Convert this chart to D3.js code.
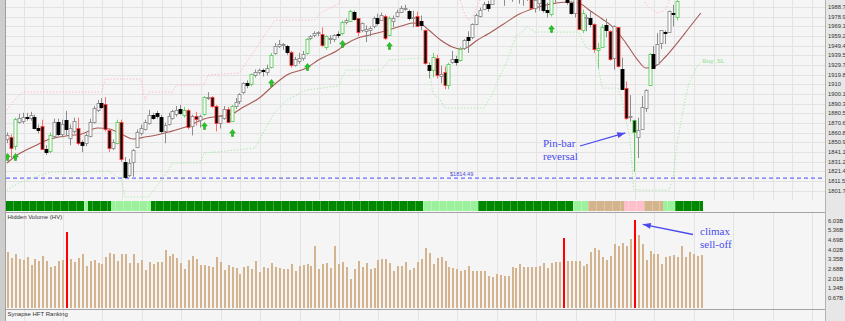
<!DOCTYPE html>
<html>
<head>
<meta charset="utf-8">
<title>Synapse daily chart</title>
<script src="https://cdnjs.cloudflare.com/ajax/libs/d3/7.8.5/d3.min.js"></script>
<style>
  body { margin: 0; background: #ffffff; }
  #chart svg { display: block; }
  .axis-label { font-family: "Liberation Sans", Arial, sans-serif; font-size: 5.8px; fill: #333; }
  .panel-title { font-family: "Liberation Sans", Arial, sans-serif; font-size: 6px; fill: #333; }
  .note { font-family: "Liberation Serif", "Times New Roman", serif; font-size: 11px; fill: #4a4af0; }
</style>
</head>
<body>
<div id="chart"></div>
<script>
// ---- values ----
// u = up, d = down, U = up with green signal outline, D = down with red outline, P = pin bar
const candleType = ("uDUuududdD" + "dUududuuDd" + "uuuudDDuUD" + "duuuuuuddd" + "uuuudUDuDu" +
                    "UuDDuuDUuu" + "udUuuduUuu" + "udDuuuUuuu" + "DUuudUuUdD" + "uuuuduDUuu" +
                    "uuduDdDdUD" + "uDUudUuduu" + "uuduuududd" + "dudDuuddUu" + "uddduDUudD" +
                    "UUdDuDdDuP" + "uuuUduudud" + "Uudduuu").split("");

const openP = [
  1854,1856,1848,1872,1873,1877,1876,1877,1866,1868,
  1844,1842,1858,1872,1860,1874,1856,1863,1866,1851,
  1850,1858,1872,1884,1891,1890,1863,1845,1851,1872,
  1831,1818,1831,1846,1861,1865,1871,1879,1881,1877,
  1863,1870,1876,1880,1885,1879,1884,1868,1878,1874,
  1880,1896,1897,1888,1871,1876,1885,1873,1888,1893,
  1902,1911,1910,1920,1923,1925,1923,1928,1942,1949,
  1950,1949,1943,1930,1934,1937,1942,1957,1960,1962,
  1961,1948,1956,1956,1961,1962,1973,1975,1984,1977,
  1965,1964,1965,1969,1978,1976,1980,1961,1974,1980,
  1984,1987,1985,1978,1980,1974,1965,1930,1925,1937,
  1918,1923,1910,1933,1936,1935,1947,1958,1958,1972,
  1980,1987,1992,1992,1998,2000,1998,1998,2004,2003,
  2001,1998,2007,2001,1988,1993,1997,1986,1982,1999,
  2003,2012,2009,1993,1983,1997,1966,1978,1978,1971,
  1945,1948,1970,1964,1936,1968,1926,1906,1877,1874,
  1856,1865,1886,1909,1941,1931,1952,1963,1964,1983,
  1979,2001,2018,2016,2015,2023,2032];

const highP = [
  1861,1859,1876,1880,1881,1881,1882,1879,1869,1874,
  1848,1861,1875,1875,1874,1883,1869,1876,1876,1853,
  1860,1875,1888,1894,1896,1897,1865,1854,1874,1874,
  1836,1834,1844,1864,1869,1874,1884,1881,1883,1879,
  1871,1881,1884,1888,1889,1887,1885,1879,1882,1879,
  1898,1902,1898,1889,1878,1888,1887,1889,1896,1901,
  1912,1914,1921,1925,1926,1926,1930,1942,1952,1955,
  1952,1950,1944,1938,1942,1944,1957,1960,1964,1964,
  1968,1960,1960,1961,1964,1975,1977,1986,1985,1977,
  1973,1970,1969,1979,1982,1983,1981,1979,1980,1986,
  1990,1991,1986,1985,1984,1980,1966,1932,1942,1940,
  1929,1928,1932,1944,1939,1948,1956,1964,1972,1982,
  1988,1994,1995,2001,2005,2002,1998,2004,2006,2007,
  2012,2008,2007,2001,1996,1998,1997,1993,2002,2010,
  2013,2019,2009,1995,1999,1997,1986,1981,1985,1972,
  1952,1971,1977,1965,1970,1968,1937,1913,1899,1874,
  1876,1898,1905,1942,1949,1962,1965,1965,1985,1991,
  1999,2018,2024,2016,2024,2032,2034];

const lowP = [
  1850,1835,1843,1870,1870,1873,1873,1864,1860,1843,
  1838,1840,1855,1857,1856,1858,1848,1860,1848,1841,
  1847,1856,1870,1882,1885,1862,1841,1843,1849,1831,
  1814.5,1815.5,1816,1845,1858,1863,1869,1874,1875,1860,
  1850,1868,1874,1877,1879,1876,1864,1858,1868,1866,
  1878,1894,1886,1862,1865,1874,1871,1872,1885,1890,
  1900,1906,1908,1917,1920,1918,1919,1926,1940,1947,
  1945,1940,1927,1928,1931,1934,1940,1955,1958,1959,
  1948,1945,1951,1953,1957,1960,1971,1974,1975,1959,
  1963,1953,1959,1967,1970,1975,1955,1960,1968,1978,
  1983,1985,1975,1968,1969,1965,1930,1916,1917,1916,
  1911,1905,1905,1931,1929,1933,1945,1942,1956,1971,
  1978,1986,1984,1991,1997,1996,1990,1998,1994,1997,
  1992,1990,1995,1986,1983,1985,1983,1978,1979,1993,
  2003,2006,1991,1981,1978,1965,1962,1964,1968,1942,
  1926,1947,1958,1934,1925,1927,1906,1874,1872,1821,
  1835,1865,1882,1909,1927,1931,1946,1951,1964,1969,
  1975,2001,2014,2001,2006,2016,2025];

const closeP = [
  1858,1845,1875,1876,1877,1876,1879,1866,1864,1845,
  1841,1858,1872,1860,1870,1865,1866,1873,1851,1848,
  1858,1872,1886,1891,1887,1865,1845,1851,1872,1834,
  1816,1830,1843,1861,1866,1872,1879,1876,1878,1863,
  1869,1878,1883,1884,1881,1884,1867,1878,1875,1878,
  1897,1897.5,1888,1871,1878,1885,1872,1888,1892,1900,
  1911,1909,1920,1923,1925,1924,1927,1940,1949,1951,
  1951,1943,1930,1936,1937,1941,1956,1959,1962,1963,
  1950,1959,1957,1960,1960,1973,1975,1985,1977,1963,
  1972,1966,1967,1977,1973,1981,1958,1978,1977,1984,
  1988,1988,1978,1979,1970,1970,1931,1925,1938,1920,
  1920,1910,1931,1936,1933,1946,1955,1955,1971,1981,
  1986,1992,1988,1998,2000,2000,1997,2003,2002,2001,
  1998,2008,2002,1988,1996,1997,1986,1984,1999,2001,
  2011,2010,1994,1983,1998,1966,1983,1979,1972,1946,
  1947,1968,1965,1935,1969,1928,1906,1875,1878,1862,
  1863,1887,1904,1941,1927,1951,1965,1962,1985,1982,
  1995,2018,2018,2012,2024,2031,2032];

// hidden volume, billions
const volume = [
  3.82,3.41,3.69,3.36,3.29,3.48,2.95,3.34,3.23,3.59,
  3.23,2.81,2.88,3.23,3.29,5.21,3.36,3.13,3.41,3.69,
  2.88,3.23,3.29,3.06,3.02,3.52,3.75,3.69,3.23,3.71,
  3.69,3.06,3.69,3.11,3.29,2.60,3.18,3.02,3.13,3.16,
  3.99,3.59,3.71,3.41,3.11,2.67,3.29,3.57,3.39,2.95,
  2.95,2.88,2.81,3.48,3.13,2.60,2.95,2.79,2.72,2.35,
  2.81,2.90,2.65,3.23,2.47,2.81,2.76,3.06,2.81,2.76,
  2.65,2.65,3.00,2.56,2.88,2.93,3.02,2.88,4.28,2.70,
  3.02,3.06,2.74,4.24,3.00,3.13,2.81,1.98,2.65,3.23,
  2.81,3.09,2.65,2.72,3.29,3.36,3.36,3.11,2.56,2.86,
  2.86,3.13,2.63,2.72,3.13,3.36,4.15,3.75,3.02,3.41,
  3.48,3.23,2.83,2.72,2.65,2.54,2.60,2.90,2.56,2.56,
  2.54,2.56,2.21,2.14,2.35,2.24,2.21,2.19,2.79,2.72,
  3.00,2.81,2.79,2.83,2.83,2.88,3.11,2.72,3.06,3.13,
  3.13,4.79,3.25,3.23,3.23,3.23,2.90,3.02,3.87,4.15,
  3.99,3.48,3.29,3.59,4.38,4.26,4.45,4.26,4.75,6.03,
  5.00,4.38,3.29,3.92,3.69,3.71,3.02,3.50,3.59,3.64,
  3.52,4.24,3.50,3.87,3.69,3.59,3.64];
const volumeRed = [15, 141, 159];

// moving average (sampled along the curve)
const maIdx = [0,3,7,11,15,19,23,26,29,32,35,38,41,46,50,54,57,60,64,68,71,76,79,84,86,89,92,96,100,103,
               105,107,110,113,115,117,119,122,126,130,134,138,142,145,148,151,154,157,160,162,164,167,170,173,176];
const maVal = [1829.9,1839.0,1847.2,1854.3,1857.4,1859.4,1865.5,1864.5,1859.4,1854.3,1856.3,1858.4,1861.4,1867.5,
               1874.7,1877.7,1879.7,1886.9,1896.0,1910.3,1919.5,1926.6,1934.7,1944.9,1951.0,1957.1,1960.2,1964.2,
               1969.3,1972.4,1971.4,1965.3,1955.1,1948.0,1945.9,1948.0,1954.1,1961.2,1971.4,1981.5,1987.7,1991.7,
               1993.8,1992.7,1984.6,1976.5,1967.3,1952.0,1934.7,1926.6,1927.6,1937.8,1952.0,1967.3,1982.6];

// upper (pink) and lower (green, Buy_SL) stop lines
const sellIdx = [0,2,4,24,25,34,35,36,42,43,50,51,59,68,78,80,84,86,114,116,117,118,120,121,161,162,163,165,167,168,169,176];
const sellVal = [1883.8,1894.0,1902.1,1902.1,1915.4,1915.4,1894.0,1902.1,1902.1,1909.3,1909.3,1919.5,1921.5,1975.4,
                 1975.4,1983.6,1991.7,2008,2008,1982.6,1975.4,1977.5,1995.8,2008,2008,1992.7,1987.7,1982.6,1985.6,
                 1995.8,2008,2008];
const buyIdx = [0,3,11,26,29,30,36,41,42,49,50,53,63,64,68,71,76,84,86,95,97,105,107,108,110,111,121,123,125,127,
                129,132,134,145,147,149,150,151,155,156,157,158,159,168,169,170,172,173,175,176];
const buyVal = [1802.4,1809.5,1820.7,1821.7,1812.6,1795.3,1795.3,1822.7,1829.9,1829.9,1840.0,1841.1,1845.1,1853.3,
                1881.8,1894.0,1904.2,1908.3,1924.5,1924.5,1934.7,1936.8,1932.7,1901.1,1894.0,1885.9,1885.9,1899.1,
                1917.4,1934.7,1958.1,1968.3,1963.2,1963.2,1946.9,1944.9,1927.6,1906.2,1906.2,1894.0,1873.6,1856.4,
                1802.4,1802.4,1815.6,1850.2,1894.0,1911.3,1927.6,1932.7];

// green buy arrows
const signalIdx = [0, 2, 50, 57, 67, 76, 85, 97, 138];
const signalPrice = [1836, 1836, 1867.5, 1860.4, 1911.3, 1927.6, 1951, 1949, 1966.3];

// ranking strip: segment start bar and level
const rankStart = [0, 20, 21, 27, 37, 106, 120, 144, 148, 157, 162, 167, 170];
const rankLevel = ["hi","lo","hi","lo","hi","lo","hi","lo","warn","alert","warn","lo","hi"];

const supportLevel = 1814.49;

const priceTicks = [1801.7,1811.5,1821.4,1831.2,1841.1,1850.9,1860.8,1870.6,1880.5,1890.3,
                    1900.1,1910,1919.8,1929.7,1939.5,1949.4,1959.2,1969.1,1978.9,1988.7];
const priceTickLabels = priceTicks.map(String);
const volumeTicks = [0.67,1.34,2.01,2.68,3.35,4.02,4.69,5.36,6.03];
const volumeTickLabels = ["0.67B","1.34B","2.01B","2.68B","3.35B","4.02B","4.69B","5.36B","6.03B"];

// ---- layout ----
const W = 845, H = 321;
const plotLeft = 6, plotRight = 825;
const priceBottom = 200;
const stripTop = 201, stripBottom = 211;
const volTop = 213, volBottom = 308;

const svg = d3.select("#chart").append("svg")
    .attr("width", W)
    .attr("height", H);

svg.append("rect").attr("width", W).attr("height", H).attr("fill", "#f5f5f5");

// scales
const x = d3.scaleLinear().domain([0, 176]).range([6.85, 700.8]);
const step = x(1) - x(0);
const y = d3.scaleLinear().domain([1801.7, 1988.7]).range([190.7, 7]);
const yVol = d3.scaleLinear().domain([0, 6.03]).range([307.7, 220.4]);

// grid - price panel
const gridIdx = d3.range(4, 220, 5).filter(j => x(j) + 1 < plotRight);
svg.append("g")
    .selectAll("line")
    .data(gridIdx)
    .join("line")
    .attr("x1", j => Math.round(x(j)) + 1.5)
    .attr("x2", j => Math.round(x(j)) + 1.5)
    .attr("y1", 0)
    .attr("y2", priceBottom)
    .attr("stroke", "#e3e3e3");

svg.append("g")
    .selectAll("line")
    .data(priceTicks)
    .join("line")
    .attr("x1", plotLeft)
    .attr("x2", plotRight)
    .attr("y1", d => Math.round(y(d)) + 0.5)
    .attr("y2", d => Math.round(y(d)) + 0.5)
    .attr("stroke", "#e3e3e3");

// grid - volume + bottom panels
const volGridIdx = d3.range(4, 220, 10).filter(j => x(j) + 1 < plotRight);
svg.append("g")
    .selectAll("line")
    .data(volGridIdx)
    .join("line")
    .attr("x1", j => Math.round(x(j)) + 1.5)
    .attr("x2", j => Math.round(x(j)) + 1.5)
    .attr("y1", volTop)
    .attr("y2", H)
    .attr("stroke", "#e3e3e3");

// clip for the price panel
svg.append("defs").append("clipPath").attr("id", "priceClip")
    .append("rect").attr("x", plotLeft).attr("y", 0)
    .attr("width", plotRight - plotLeft).attr("height", priceBottom);

const pg = svg.append("g").attr("clip-path", "url(#priceClip)");

// support line
pg.append("line")
    .attr("x1", plotLeft)
    .attr("x2", plotRight)
    .attr("y1", y(supportLevel))
    .attr("y2", y(supportLevel))
    .attr("stroke", "#6d6df2")
    .attr("stroke-width", 1.2)
    .attr("stroke-dasharray", "4,3");

svg.append("text")
    .attr("x", 450)
    .attr("y", y(supportLevel) - 2.5)
    .attr("font-family", "Liberation Sans, Arial, sans-serif")
    .attr("font-size", 5.6)
    .attr("fill", "#4a4ad8")
    .text("$" + supportLevel.toFixed(2));

// stop lines (dotted)
const stopLine = d3.line().x(d => x(d[0])).y(d => y(d[1]));
pg.append("path")
    .datum(sellIdx.map((j, k) => [j, sellVal[k]]))
    .attr("d", stopLine)
    .attr("fill", "none")
    .attr("stroke", "#ffb3c3")
    .attr("stroke-width", 1)
    .attr("stroke-dasharray", "1.2,2");

pg.append("path")
    .datum(buyIdx.map((j, k) => [j, buyVal[k]]))
    .attr("d", stopLine)
    .attr("fill", "none")
    .attr("stroke", "#a3e8a3")
    .attr("stroke-width", 1)
    .attr("stroke-dasharray", "1.2,2");

svg.append("text")
    .attr("x", x(176) + 1.5)
    .attr("y", y(buyVal[buyVal.length - 1]) + 0.5)
    .attr("font-family", "Liberation Sans, Arial, sans-serif")
    .attr("font-size", 6)
    .attr("font-weight", "bold")
    .attr("fill", "#a8e4a8")
    .text("Buy_SL");

// moving average
pg.append("path")
    .datum(maIdx.map((j, k) => [j, maVal[k]]))
    .attr("d", d3.line().x(d => x(d[0])).y(d => y(d[1])).curve(d3.curveMonotoneX))
    .attr("fill", "none")
    .attr("stroke", "#a65a55")
    .attr("stroke-width", 1.1);

// candles
const candleStyle = {
    u: {fill: "#ffffff", stroke: "#8c8c8c", wick: "#8c8c8c"},
    d: {fill: "#000000", stroke: "#000000", wick: "#8c8c8c"},
    U: {fill: "#ffffff", stroke: "#5bcc5b", wick: "#6fd46f"},
    D: {fill: "#000000", stroke: "#ff3a3a", wick: "#ff6f6f"},
    P: {fill: "#061a06", stroke: "#3cbf3c", wick: "#52c952"}
};
const bars = candleType.map((t, i) => ({i: i, t: t, o: openP[i], h: highP[i], l: lowP[i], c: closeP[i]}));

pg.append("g")
    .selectAll("line")
    .data(bars)
    .join("line")
    .attr("x1", d => Math.round(x(d.i)) + 0.5)
    .attr("x2", d => Math.round(x(d.i)) + 0.5)
    .attr("y1", d => y(d.h))
    .attr("y2", d => y(d.l))
    .attr("stroke", d => candleStyle[d.t].wick)
    .attr("stroke-width", 1);

pg.append("g")
    .selectAll("rect")
    .data(bars)
    .join("rect")
    .attr("x", d => Math.round(x(d.i)) - 1)
    .attr("y", d => Math.round(y(Math.max(d.o, d.c))) + 0.5)
    .attr("width", 3)
    .attr("height", d => Math.max(1, Math.round(Math.abs(y(d.o) - y(d.c)))))
    .attr("fill", d => candleStyle[d.t].fill)
    .attr("stroke", d => candleStyle[d.t].stroke)
    .attr("stroke-width", 0.9);

// buy arrows
const arrowPath = (cx, cy) =>
    `M${cx},${cy - 3.6}L${cx + 2.8},${cy}L${cx + 1},${cy}L${cx + 1},${cy + 3.4}` +
    `L${cx - 1},${cy + 3.4}L${cx - 1},${cy}L${cx - 2.8},${cy}Z`;
pg.append("g")
    .selectAll("path")
    .data(signalIdx.map((j, k) => ({j: j, p: signalPrice[k]})))
    .join("path")
    .attr("d", d => arrowPath(Math.round(x(d.j)) + 0.5, y(d.p)))
    .attr("fill", "#1fcf1f")
    .attr("stroke", "#138a13")
    .attr("stroke-width", 0.5);

// ranking strip
const rankColor = {hi: "#008800", lo: "#9cf29c", warn: "#d3b48d", alert: "#ffc0cb"};
const rankOf = j => {
    let k = 0;
    while (k + 1 < rankStart.length && rankStart[k + 1] <= j) k++;
    return rankLevel[k];
};
svg.append("g")
    .selectAll("rect")
    .data(bars)
    .join("rect")
    .attr("x", d => x(d.i) - step / 2)
    .attr("y", stripTop)
    .attr("width", step + 0.3)
    .attr("height", stripBottom - stripTop)
    .attr("fill", d => rankColor[rankOf(d.i)])
    .attr("shape-rendering", "crispEdges");

svg.append("g")
    .selectAll("line")
    .data(bars.filter(d => d.i % 2 === 0 && d.i > 0))
    .join("line")
    .attr("x1", d => Math.round(x(d.i) - step / 2) + 0.5)
    .attr("x2", d => Math.round(x(d.i) - step / 2) + 0.5)
    .attr("y1", stripTop)
    .attr("y2", stripBottom)
    .attr("stroke", "#ffffff")
    .attr("stroke-opacity", 0.25);

// volume bars
svg.append("g")
    .selectAll("rect")
    .data(volume.map((v, i) => ({i: i, v: v})))
    .join("rect")
    .attr("x", d => Math.round(x(d.i)))
    .attr("y", d => yVol(d.v))
    .attr("width", 2)
    .attr("height", d => yVol(0) - yVol(d.v))
    .attr("fill", d => volumeRed.includes(d.i) ? "#ff0000" : "#d4b48e")
    .attr("shape-rendering", "crispEdges");

// panel separators and frames
svg.append("line")
    .attr("x1", plotLeft).attr("x2", W)
    .attr("y1", 212.5).attr("y2", 212.5)
    .attr("stroke", "#a4a4a4");
svg.append("line")
    .attr("x1", plotLeft).attr("x2", W)
    .attr("y1", 309.5).attr("y2", 309.5)
    .attr("stroke", "#a4a4a4");

// right axis area
svg.append("rect")
    .attr("x", plotRight).attr("y", 0)
    .attr("width", W - plotRight).attr("height", H)
    .attr("fill", "#e7e7e7");
svg.append("line")
    .attr("x1", plotRight + 0.5).attr("x2", plotRight + 0.5)
    .attr("y1", 0).attr("y2", H)
    .attr("stroke", "#b2b2b2");

// left border
svg.append("rect").attr("x", 0).attr("y", 0).attr("width", 5).attr("height", H).attr("fill", "#cdcdcd");
svg.append("line").attr("x1", 5.5).attr("x2", 5.5).attr("y1", 0).attr("y2", H).attr("stroke", "#a0a0a0");

// axis labels
svg.append("g")
    .selectAll("text")
    .data(priceTicks)
    .join("text")
    .attr("class", "axis-label")
    .attr("x", 828)
    .attr("y", d => y(d) + 2.1)
    .text((d, k) => priceTickLabels[k]);

svg.append("g")
    .selectAll("text")
    .data(volumeTicks)
    .join("text")
    .attr("class", "axis-label")
    .attr("x", 828)
    .attr("y", d => yVol(d) + 2.1)
    .text((d, k) => volumeTickLabels[k]);

// panel titles
svg.append("text").attr("class", "panel-title").attr("x", 7.5).attr("y", 218.5).text("Hidden Volume (HV)");
svg.append("text").attr("class", "panel-title").attr("x", 7.5).attr("y", 316).text("Synapse HFT Ranking");

// annotations
const arrowHead = (x1, y1, x2, y2, len, half) => {
    const a = Math.atan2(y2 - y1, x2 - x1);
    const bx = x2 - len * Math.cos(a), by = y2 - len * Math.sin(a);
    const px = -Math.sin(a) * half, py = Math.cos(a) * half;
    return [[x2, y2], [bx + px, by + py], [bx - px, by - py]];
};
const drawNoteArrow = (x1, y1, x2, y2) => {
    svg.append("line")
        .attr("x1", x1).attr("y1", y1).attr("x2", x2).attr("y2", y2)
        .attr("stroke", "#4a4af0").attr("stroke-width", 1.3);
    svg.append("polygon")
        .attr("points", arrowHead(x1, y1, x2, y2, 8, 3).join(" "))
        .attr("fill", "#4a4af0");
};

svg.append("text").attr("class", "note").attr("x", 543).attr("y", 146.5).text("Pin-bar");
svg.append("text").attr("class", "note").attr("x", 543).attr("y", 159.5).text("reversal");
drawNoteArrow(580, 146, x(159) - 8.5, y(1860.5));

svg.append("text").attr("class", "note").attr("x", 700).attr("y", 234.5).text("climax");
svg.append("text").attr("class", "note").attr("x", 700).attr("y", 247.5).text("sell-off");
drawNoteArrow(693, 234.5, x(159) + 9, yVol(5.76));
</script>
</body>
</html>
